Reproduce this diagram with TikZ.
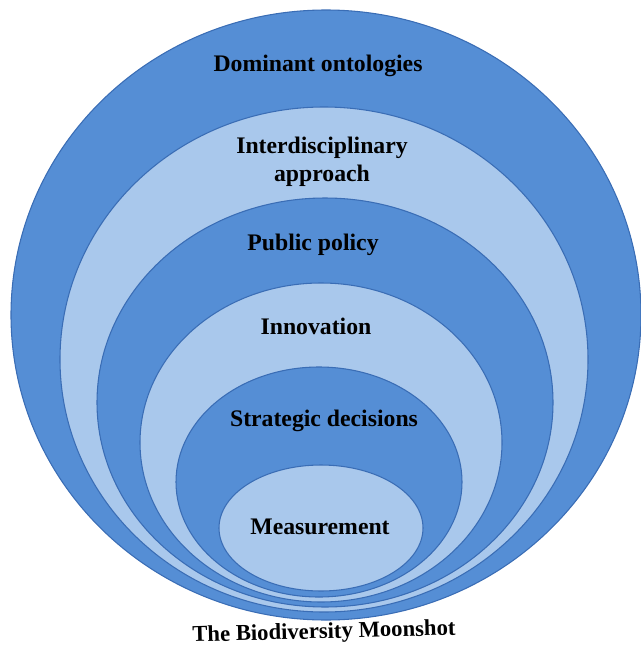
\documentclass[tikz,border=0pt]{standalone}
\usepackage{fontspec}
\setmainfont{Liberation Serif}
\usetikzlibrary{positioning}
\definecolor{ringdark}{RGB}{85,142,213}
\definecolor{ringlight}{RGB}{169,200,236}
\definecolor{ringedge}{RGB}{58,109,181}
\tikzset{
  ringlabel/.style={font=\bfseries\fontsize{17.8}{21}\selectfont,align=center,inner sep=1pt},
  titlelabel/.style={font=\bfseries\fontsize{17}{20}\selectfont,inner sep=1pt}
}
\begin{document}
\begin{tikzpicture}[x=0.75pt,y=-0.75pt]
  \useasboundingbox (0,0) rectangle (641,653);
  \clip (0,0) rectangle (641,653);
  % rings, outside in:
  \foreach \cx/\cy/\rx/\ry/\col in {326/315/315/305/ringdark, 324/359.5/264/252.5/ringlight,
      325/402.5/228/204.5/ringdark, 321/442.5/181/159.5/ringlight, 319/482/143/115/ringdark,
      321/528/102/63/ringlight}
    \filldraw[fill=\col,draw=ringedge,line width=0.8pt] (\cx,\cy) ellipse [x radius=\rx, y radius=\ry];

  \node[ringlabel] (dom) at (318,66) {Dominant ontologies};
  \node[ringlabel] (inter) at (322,162) {Interdisciplinary\\approach};
  \node[ringlabel] (pub) at (313,245) {Public policy};
  \node[ringlabel] (inno) at (316,326) {Innovation};
  \node[ringlabel] (strat) at (324,421) {Strategic decisions};
  \node[ringlabel] (meas) at (320,527) {Measurement};
  % title under the rings:
  \node[titlelabel,rotate=1.5] (moon) at (324,633) {The Biodiversity Moonshot};
\end{tikzpicture}
\end{document}
